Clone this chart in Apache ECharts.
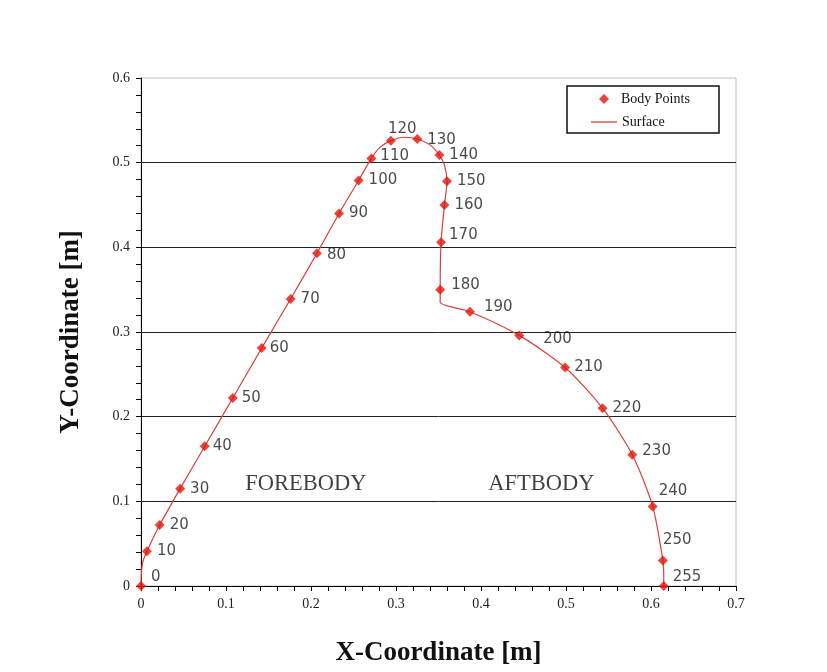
<!DOCTYPE html>
<html lang="en">
<head>
    <meta charset="UTF-8">
    <title>Body Points</title>
    <style>
        html, body { margin: 0; padding: 0; background: #fff; }
        #chart { width: 827px; height: 672px; }
    </style>
</head>
<body>
    <div id="chart"></div>
    <script src="https://cdn.jsdelivr.net/npm/echarts@6/dist/echarts.min.js"></script>
    <script>
        // body point numbers and coordinates [m]
        const pointIds = [0, 10, 20, 30, 40, 50, 60, 70, 80, 90, 100, 110, 120, 130, 140,
            150, 160, 170, 180, 190, 200, 210, 220, 230, 240, 250, 255];
        const pointX = [0, 0.007, 0.022, 0.046, 0.075, 0.108, 0.142, 0.176, 0.207, 0.233, 0.256, 0.271, 0.294, 0.325, 0.351,
            0.360, 0.357, 0.353, 0.352, 0.387, 0.445, 0.499, 0.543, 0.578, 0.602, 0.614, 0.615];
        const pointY = [0, 0.041, 0.072, 0.115, 0.165, 0.222, 0.281, 0.339, 0.393, 0.440, 0.479, 0.505, 0.526, 0.528, 0.509,
            0.478, 0.450, 0.406, 0.350, 0.324, 0.296, 0.258, 0.210, 0.155, 0.094, 0.030, 0];

        // surface outline (body points plus a few extra points along the curve)
        const surfaceX = [0, 0.0005, 0.002, 0.007, 0.022, 0.046, 0.075, 0.108, 0.142, 0.176, 0.207, 0.233, 0.256, 0.271,
            0.281, 0.294, 0.310, 0.325, 0.340, 0.351, 0.357, 0.360, 0.357, 0.353, 0.352, 0.352, 0.387, 0.445, 0.499,
            0.543, 0.578, 0.602, 0.614, 0.615, 0.615];
        const surfaceY = [0, 0.015, 0.028, 0.041, 0.072, 0.115, 0.165, 0.222, 0.281, 0.339, 0.393, 0.440, 0.479, 0.505,
            0.518, 0.526, 0.530, 0.528, 0.521, 0.509, 0.497, 0.478, 0.450, 0.406, 0.350, 0.335, 0.324, 0.296, 0.258,
            0.210, 0.155, 0.094, 0.030, 0.012, 0];

        const regionNames = ['FOREBODY', 'AFTBODY'];
        const regionX = [0.194, 0.471];
        const regionY = [0.120, 0.120];

        const xTicks = { min: 0, max: 0.7, interval: 0.1 };
        const yTicks = { min: 0, max: 0.6, interval: 0.1 };

        // label nudges [dx, dy] for the point numbers
        const labelNudge = {
            0: [0, -9], 40: [-2, 0], 50: [-1, 0], 60: [-2, 0], 80: [0, 2], 110: [-1, -2],
            120: [-13, -12], 130: [0, 1], 170: [-2, -7], 180: [1, -5], 190: [4, -5],
            200: [14, 4], 210: [-1, 0], 230: [0, -4], 240: [-4, -15], 250: [-10, -20], 255: [-1, -9]
        };

        const red = '#e3140c';
        const lineRed = '#d8403a';
        const serif = '"Liberation Serif", "Times New Roman", serif';

        const bodyData = pointIds.map((id, i) => ({
            value: [pointX[i], pointY[i], id],
            label: { offset: labelNudge[id] || [0, 0] }
        }));
        const surfaceData = surfaceX.map((x, i) => [x, surfaceY[i]]);
        const regionData = regionNames.map((n, i) => ({ name: n, value: [regionX[i], regionY[i]] }));

        function axisCommon(t) {
            return {
                type: 'value',
                min: t.min,
                max: t.max,
                interval: t.interval,
                nameLocation: 'middle',
                nameTextStyle: { fontFamily: serif, fontWeight: 'bold', fontSize: 27, color: '#111' },
                axisLine: { show: true, lineStyle: { color: '#000', width: 1 } },
                axisTick: { show: true, length: 5, lineStyle: { color: '#000' } },
                minorTick: { show: true, splitNumber: 5, length: 5, lineStyle: { color: '#000' } },
                axisLabel: { fontFamily: serif, fontSize: 14, color: '#222', margin: 11 }
            };
        }

        const chart = echarts.init(document.getElementById('chart'));
        chart.setOption({
            backgroundColor: '#fff',
            animation: false,
            grid: { left: 141, right: 91, top: 78, bottom: 85, show: true, borderColor: '#c0c0c0', borderWidth: 1 },
            xAxis: Object.assign(axisCommon(xTicks), {
                name: 'X-Coordinate [m]',
                nameGap: 54,
                splitLine: { show: false }
            }),
            yAxis: Object.assign(axisCommon(yTicks), {
                name: 'Y-Coordinate [m]',
                nameGap: 56,
                splitLine: { show: true, showMaxLine: false, lineStyle: { color: '#222', width: 1 } }
            }),
            legend: [
                {
                    data: ['Body Points'],
                    left: 594, top: 87,
                    itemWidth: 10, itemHeight: 10,
                    textStyle: { fontFamily: serif, fontSize: 14, color: '#111', padding: [0, 0, 0, 7] }
                },
                {
                    data: [{ name: 'Surface', icon: 'rect', itemStyle: { color: lineRed } }],
                    left: 586, top: 110,
                    itemWidth: 26, itemHeight: 1.3,
                    textStyle: { fontFamily: serif, fontSize: 14, color: '#111' }
                }
            ],
            graphic: [{
                type: 'rect',
                shape: { x: 567, y: 86, width: 152, height: 47 },
                style: { fill: 'none', stroke: '#111', lineWidth: 1.5 },
                silent: true
            }],
            series: [
                {
                    name: 'Surface',
                    type: 'line',
                    data: surfaceData,
                    showSymbol: false,
                    symbol: 'none',
                    smooth: 0.25,
                    lineStyle: { color: lineRed, width: 1.2 },
                    itemStyle: { color: lineRed },
                    z: 2
                },
                {
                    name: 'Body Points',
                    type: 'scatter',
                    data: bodyData,
                    symbol: 'diamond',
                    symbolSize: 10,
                    itemStyle: { color: red },
                    label: {
                        show: true,
                        position: 'right',
                        distance: 5,
                        formatter: p => String(p.value[2]),
                        fontFamily: '"DejaVu Sans", Verdana, sans-serif',
                        fontSize: 15,
                        color: '#1a1a1a'
                    },
                    z: 3
                },
                {
                    name: 'regions',
                    type: 'scatter',
                    data: regionData,
                    symbolSize: 0,
                    silent: true,
                    label: {
                        show: true,
                        position: 'inside',
                        formatter: p => p.name,
                        fontFamily: serif,
                        fontSize: 22.5,
                        color: '#111'
                    }
                }
            ]
        });
    </script>
</body>
</html>
